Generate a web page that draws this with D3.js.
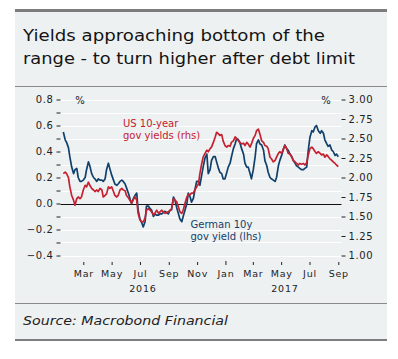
<!DOCTYPE html>
<html>
<head>
<meta charset="utf-8">
<script src="https://cdn.jsdelivr.net/npm/d3@7"></script>
<style>
  html, body { margin: 0; padding: 0; background: #ffffff; }
  svg { display: block; }
  text { font-family: "DejaVu Sans", sans-serif; }
</style>
</head>
<body>
<svg id="chart" width="398" height="359"></svg>
<script>
const titleLines = ["Yields approaching bottom of the", "range - to turn higher after debt limit"];
const sourceText = "Source: Macrobond Financial";

const dates = [
"2016-01-18","2016-01-22","2016-01-25","2016-01-29","2016-02-01","2016-02-05","2016-02-09","2016-02-12","2016-02-16","2016-02-19",
"2016-02-23","2016-02-26","2016-03-01","2016-03-05","2016-03-08","2016-03-12","2016-03-15","2016-03-19","2016-03-23","2016-03-26",
"2016-03-30","2016-04-02","2016-04-06","2016-04-10","2016-04-13","2016-04-17","2016-04-20","2016-04-24","2016-04-27","2016-05-01",
"2016-05-05","2016-05-08","2016-05-12","2016-05-15","2016-05-19","2016-05-23","2016-05-26","2016-05-30","2016-06-02","2016-06-06",
"2016-06-10","2016-06-13","2016-06-17","2016-06-20","2016-06-24","2016-06-27","2016-07-01","2016-07-05","2016-07-08","2016-07-12",
"2016-07-15","2016-07-19","2016-07-23","2016-07-26","2016-07-30","2016-08-02","2016-08-06","2016-08-10","2016-08-13","2016-08-17",
"2016-08-20","2016-08-24","2016-08-27","2016-08-31","2016-09-04","2016-09-07","2016-09-11","2016-09-14","2016-09-18","2016-09-22",
"2016-09-25","2016-09-29","2016-10-02","2016-10-06","2016-10-10","2016-10-13","2016-10-17","2016-10-20","2016-10-24","2016-10-27",
"2016-10-31","2016-11-04","2016-11-07","2016-11-11","2016-11-14","2016-11-18","2016-11-22","2016-11-25","2016-11-29","2016-12-02",
"2016-12-06","2016-12-10","2016-12-13","2016-12-17","2016-12-20","2016-12-24","2016-12-27","2016-12-31","2017-01-04","2017-01-07",
"2017-01-11","2017-01-14","2017-01-18","2017-01-22","2017-01-25","2017-01-29","2017-02-01","2017-02-05","2017-02-09","2017-02-12",
"2017-02-16","2017-02-19","2017-02-23","2017-02-26","2017-03-02","2017-03-06","2017-03-09","2017-03-13","2017-03-16","2017-03-20",
"2017-03-24","2017-03-27","2017-03-31","2017-04-03","2017-04-07","2017-04-10","2017-04-14","2017-04-18","2017-04-21","2017-04-25",
"2017-04-28","2017-05-02","2017-05-06","2017-05-09","2017-05-13","2017-05-16","2017-05-20","2017-05-24","2017-05-27","2017-05-31",
"2017-06-03","2017-06-07","2017-06-10","2017-06-14","2017-06-18","2017-06-21","2017-06-25","2017-06-28","2017-07-02","2017-07-06",
"2017-07-09","2017-07-13","2017-07-16","2017-07-20","2017-07-24","2017-07-27","2017-07-31","2017-08-03","2017-08-07","2017-08-10",
"2017-08-14","2017-08-18","2017-08-21","2017-08-25","2017-08-28","2017-09-01"
];

// German 10y gov yield (lhs, %)
const german10y = [
0.55,0.49,0.47,0.43,0.36,0.28,0.23,0.26,0.27,0.20,
0.17,0.17,0.18,0.20,0.26,0.32,0.29,0.23,0.20,0.19,
0.17,0.19,0.18,0.18,0.17,0.19,0.26,0.31,0.27,0.22,
0.18,0.15,0.14,0.15,0.17,0.18,0.17,0.15,0.12,0.08,
0.03,0.00,0.04,0.06,0.08,-0.05,-0.12,-0.15,-0.18,-0.14,
-0.02,-0.02,-0.04,-0.05,-0.10,-0.08,-0.09,-0.09,-0.08,-0.08,
-0.07,-0.06,-0.07,-0.08,-0.05,-0.05,0.05,0.03,-0.03,-0.08,
-0.12,-0.14,-0.10,-0.05,0.00,0.08,0.05,0.01,0.04,0.10,
0.17,0.17,0.14,0.22,0.28,0.35,0.38,0.23,0.26,0.33,
0.36,0.36,0.32,0.27,0.24,0.23,0.19,0.19,0.24,0.28,
0.31,0.36,0.42,0.46,0.50,0.49,0.47,0.42,0.38,0.31,
0.28,0.28,0.23,0.19,0.26,0.36,0.46,0.49,0.46,0.45,
0.41,0.33,0.29,0.24,0.20,0.19,0.18,0.17,0.20,0.29,
0.33,0.37,0.42,0.45,0.42,0.41,0.38,0.36,0.33,0.31,
0.29,0.28,0.27,0.26,0.26,0.27,0.28,0.40,0.51,0.56,
0.55,0.59,0.60,0.56,0.54,0.56,0.54,0.49,0.46,0.44,
0.45,0.41,0.40,0.37,0.38,0.36
];

// US 10-year gov yields (rhs, %)
const us10y = [
2.05,2.07,2.05,2.00,1.88,1.77,1.71,1.645,1.73,1.75,
1.73,1.75,1.84,1.90,1.88,1.94,1.90,1.86,1.84,1.82,
1.84,1.82,1.86,1.84,1.75,1.77,1.79,1.88,1.86,1.88,
1.82,1.77,1.75,1.77,1.84,1.86,1.84,1.83,1.77,1.74,
1.70,1.67,1.72,1.75,1.71,1.54,1.455,1.43,1.43,1.48,
1.58,1.60,1.58,1.56,1.52,1.54,1.58,1.54,1.56,1.58,
1.56,1.54,1.55,1.56,1.58,1.60,1.73,1.71,1.69,1.62,
1.56,1.54,1.58,1.67,1.75,1.78,1.78,1.80,1.80,1.84,
1.88,1.92,2.05,2.18,2.26,2.31,2.35,2.33,2.37,2.39,
2.45,2.52,2.58,2.56,2.54,2.55,2.47,2.41,2.39,2.41,
2.40,2.45,2.47,2.52,2.50,2.47,2.45,2.43,2.44,2.41,
2.45,2.43,2.39,2.43,2.50,2.54,2.60,2.62,2.56,2.47,
2.45,2.41,2.40,2.37,2.26,2.24,2.20,2.22,2.26,2.31,
2.33,2.31,2.37,2.41,2.37,2.31,2.30,2.26,2.22,2.20,
2.18,2.16,2.18,2.17,2.18,2.16,2.19,2.28,2.37,2.39,
2.37,2.33,2.31,2.33,2.31,2.29,2.30,2.26,2.29,2.27,
2.24,2.22,2.20,2.18,2.16,2.14
];

const leftTicks = [0.8,0.7,0.6,0.5,0.4,0.3,0.2,0.1,0.0,-0.1,-0.2,-0.3,-0.4];
const leftLabelTicks = [0.8,0.6,0.4,0.2,0.0,-0.2,-0.4];
const rightTicks = [3.00,2.75,2.50,2.25,2.00,1.75,1.50,1.25,1.00];
const monthTicks = ["2016-03-01","2016-05-01","2016-07-01","2016-09-01","2016-11-01","2017-01-01","2017-03-01","2017-05-01","2017-07-01","2017-09-01"];
const yearLabels = ["2016","2017"];
const seriesLabels = {
  us: ["US 10-year", "gov yields (rhs)"],
  de: ["German 10y", "gov yield (lhs)"]
};

const BLUE = "#11406a";
const RED = "#c52130";
const BG = "#eef1f2";

const parse = d3.timeParse("%Y-%m-%d");
const svg = d3.select("#chart");

// panel
svg.append("rect").attr("x", 15).attr("y", 11).attr("width", 372).attr("height", 329).attr("fill", BG);
svg.append("rect").attr("x", 15).attr("y", 9).attr("width", 372).attr("height", 3).attr("fill", "#7d7d7d");
svg.append("rect").attr("x", 15).attr("y", 86).attr("width", 372).attr("height", 1).attr("fill", "#8a8a8a");
svg.append("rect").attr("x", 15).attr("y", 303).attr("width", 372).attr("height", 1).attr("fill", "#8a8a8a");
svg.append("rect").attr("x", 15).attr("y", 339).attr("width", 372).attr("height", 2).attr("fill", "#7d7d7d");

// title
const tl = [ {t: titleLines[0], y: 41, w: 302}, {t: titleLines[1], y: 63.5, w: 332} ];
tl.forEach(o => {
  svg.append("text").attr("x", 23).attr("y", o.y).attr("font-size", 16.5).attr("fill", "#141414")
    .attr("textLength", o.w).attr("lengthAdjust", "spacingAndGlyphs").text(o.t);
});

// source
svg.append("text").attr("x", 23).attr("y", 325).attr("font-size", 13).attr("font-style", "italic")
  .attr("fill", "#222").attr("textLength", 205).attr("lengthAdjust", "spacingAndGlyphs").text(sourceText);

// scales
const x = d3.scaleTime().domain([parse("2016-03-01"), parse("2017-09-01")]).range([83.3, 338.3]);
const yL = d3.scaleLinear().domain([-0.4, 0.8]).range([255.5, 99.5]);
const yR = d3.scaleLinear().domain([1, 3]).range([255.5, 99.5]);
const plotX0 = 60.5, plotX1 = 341.5;

// gridlines
svg.append("g").selectAll("line").data(leftTicks.filter(v => Math.abs(v) > 1e-9)).join("line")
  .attr("x1", plotX0).attr("x2", plotX1)
  .attr("y1", d => Math.round(yL(d)) + 0.5).attr("y2", d => Math.round(yL(d)) + 0.5)
  .attr("stroke", "#ffffff").attr("stroke-width", 1.2);

// zero line
svg.append("line").attr("x1", plotX0).attr("x2", plotX1)
  .attr("y1", Math.round(yL(0)) + 0.5).attr("y2", Math.round(yL(0)) + 0.5)
  .attr("stroke", "#111").attr("stroke-width", 1.1);

// left axis
const axL = svg.append("g").attr("transform", `translate(${plotX0},0)`)
  .call(d3.axisLeft(yL).tickValues(leftTicks).tickSize(4).tickPadding(3)
    .tickFormat(d => leftLabelTicks.some(v => Math.abs(v - d) < 1e-9) ? d3.format(".1f")(d).replace("-", "\u2212") : ""));
axL.select(".domain").remove();
axL.selectAll("line").attr("stroke", "#222").attr("stroke-width", 1);
axL.selectAll("text").attr("font-size", 10).attr("fill", "#222").attr("letter-spacing", 0.6)
  .attr("font-family", "DejaVu Sans");

// right axis
const axR = svg.append("g").attr("transform", `translate(${plotX1},0)`)
  .call(d3.axisRight(yR).tickValues(rightTicks).tickSize(4).tickPadding(3).tickFormat(d3.format(".2f")));
axR.select(".domain").remove();
axR.selectAll("line").attr("stroke", "#222").attr("stroke-width", 1);
axR.selectAll("text").attr("font-size", 10).attr("fill", "#222").attr("letter-spacing", 0.6)
  .attr("font-family", "DejaVu Sans");

// % units
svg.append("text").attr("x", 80).attr("y", 103.5).attr("text-anchor", "middle").attr("font-size", 10).attr("fill", "#222").text("%");
svg.append("text").attr("x", 326).attr("y", 103.5).attr("text-anchor", "middle").attr("font-size", 10).attr("fill", "#222").text("%");

// bottom axis
const axB = svg.append("g").attr("transform", "translate(0,262)")
  .call(d3.axisBottom(x).tickValues(monthTicks.map(parse)).tickSize(3).tickPadding(5).tickFormat(d3.timeFormat("%b")));
axB.select(".domain").remove();
axB.selectAll("line").attr("stroke", "#222").attr("stroke-width", 1)
  .attr("y1", d => d.getMonth() === 0 ? -1 : 0);
axB.selectAll("text").attr("font-size", 9.5).attr("fill", "#222").attr("letter-spacing", 0.8)
  .attr("font-family", "DejaVu Sans");

// year labels, centred on the visible part of each year
const yearSpans = [[plotX0, x(parse("2017-01-01"))], [x(parse("2017-01-01")), plotX1 + 3]];
yearLabels.forEach((t, i) => {
  svg.append("text").attr("x", (yearSpans[i][0] + yearSpans[i][1]) / 2).attr("y", 292)
    .attr("text-anchor", "middle").attr("font-size", 9.5).attr("letter-spacing", 0.8).attr("fill", "#222").text(t);
});

// lines
const blueData = dates.map((d, i) => ({d: parse(d), v: german10y[i]}));
const redData = dates.map((d, i) => ({d: parse(d), v: us10y[i]}));

svg.append("path").datum(blueData)
  .attr("fill", "none").attr("stroke", BLUE).attr("stroke-width", 1.7).attr("stroke-linejoin", "round")
  .attr("d", d3.line().x(p => x(p.d)).y(p => yL(p.v)));
svg.append("path").datum(redData)
  .attr("fill", "none").attr("stroke", RED).attr("stroke-width", 1.7).attr("stroke-linejoin", "round")
  .attr("d", d3.line().x(p => x(p.d)).y(p => yR(p.v)));

// series labels
seriesLabels.us.forEach((t, i) => {
  svg.append("text").attr("x", 123).attr("y", 127 + i * 11.5).attr("font-size", 10).attr("fill", RED).text(t);
});
seriesLabels.de.forEach((t, i) => {
  svg.append("text").attr("x", 190.5).attr("y", 227.5 + i * 12).attr("font-size", 10).attr("fill", BLUE).text(t);
});
</script>
</body>
</html>
